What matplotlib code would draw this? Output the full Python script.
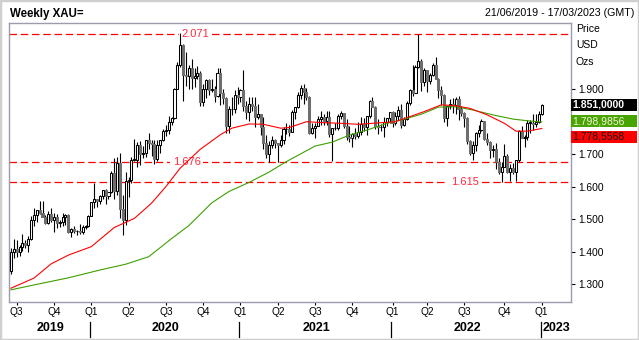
import matplotlib.pyplot as plt
import matplotlib.transforms as mtransforms
from matplotlib.patches import Rectangle
import numpy as np

plt.rcParams['font.family'] = ['Liberation Sans', 'DejaVu Sans']

# weekly XAU= candles, one per week from 21/06/2019 to 06/01/2023
opens = [
    # 2019
    1341, 1400, 1409, 1400, 1415, 1426, 1419, 1440, 1497, 1513, 1527, 1520, 1507, 1488,
    1517, 1498, 1505, 1489, 1490, 1505, 1514, 1459, 1468, 1462, 1464, 1460, 1476, 1479,
    # 2020
    1511, 1552, 1562, 1557, 1571, 1589, 1570, 1584, 1643, 1585, 1674, 1530, 1498, 1617,
    1620, 1683, 1683, 1728, 1701, 1703, 1743, 1735, 1730, 1685, 1729, 1743, 1771, 1775,
    1798, 1810, 1902, 1975, 2035, 1944, 1940, 1964, 1934, 1940, 1950, 1862, 1900, 1930,
    1899, 1902, 1879, 1951, 1888, 1872, 1788, 1839, 1840, 1881,
    # 2021
    1877, 1898, 1849, 1829, 1855, 1848, 1814, 1823, 1784, 1734, 1700, 1727, 1745, 1733,
    1728, 1744, 1777, 1777, 1769, 1831, 1844, 1881, 1903, 1891, 1877, 1764, 1781, 1787,
    1808, 1815, 1802, 1814, 1763, 1780, 1781, 1818, 1827, 1788, 1754, 1750, 1761, 1757,
    1768, 1793, 1783, 1818, 1865, 1846, 1788, 1783, 1783, 1798, 1810,
    # 2022
    1829, 1797, 1817, 1835, 1791, 1808, 1859, 1898, 1889, 1970, 1988, 1921, 1958, 1925,
    1945, 1975, 1932, 1897, 1883, 1811, 1847, 1853, 1851, 1871, 1840, 1827, 1811, 1742,
    1703, 1727, 1766, 1775, 1802, 1747, 1737, 1712, 1716, 1675, 1644, 1661, 1695, 1644,
    1656, 1645, 1681, 1771, 1751, 1754, 1797, 1797, 1793, 1798,
    # 2023
    1824,
]
highs = [
    1411, 1439, 1437, 1419, 1453, 1434, 1449, 1510, 1535, 1527, 1555, 1557, 1512, 1524,
    1535, 1519, 1517, 1498, 1518, 1517, 1515, 1474, 1478, 1465, 1484, 1481, 1482, 1513,
    1553, 1611, 1563, 1574, 1589, 1592, 1584, 1649, 1689, 1692, 1703, 1575, 1645, 1631,
    1690, 1747, 1738, 1739, 1724, 1744, 1765, 1745, 1744, 1744, 1745, 1779, 1789, 1818,
    1815, 1904, 1984, 2072, 2039, 2015, 1976, 1992, 1966, 1973, 1955, 1917, 1933, 1933,
    1932, 1911, 1965, 1966, 1900, 1875, 1848, 1875, 1897, 1907,
    1900, 1959, 1864, 1875, 1875, 1875, 1855, 1824, 1815, 1760, 1740, 1755, 1746, 1734,
    1758, 1784, 1797, 1790, 1836, 1846, 1890, 1913, 1916, 1903, 1879, 1795, 1795, 1818,
    1834, 1825, 1832, 1832, 1782, 1795, 1824, 1834, 1828, 1808, 1787, 1764, 1781, 1800,
    1814, 1810, 1818, 1868, 1877, 1849, 1809, 1793, 1815, 1812, 1830,
    1832, 1830, 1848, 1853, 1815, 1865, 1902, 1974, 1974, 2070, 1992, 1966, 1960, 1950,
    1981, 1998, 1936, 1910, 1885, 1849, 1870, 1874, 1875, 1879, 1847, 1830, 1813, 1745,
    1739, 1767, 1789, 1807, 1802, 1765, 1739, 1729, 1735, 1688, 1675, 1730, 1700, 1669,
    1674, 1682, 1774, 1786, 1760, 1804, 1805, 1824, 1823, 1833,
    1855,
]
lows = [
    1331, 1381, 1382, 1386, 1403, 1412, 1400, 1437, 1480, 1492, 1516, 1506, 1485, 1484,
    1491, 1459, 1474, 1476, 1480, 1483, 1456, 1445, 1456, 1452, 1455, 1455, 1470, 1477,
    1508, 1535, 1536, 1546, 1563, 1547, 1562, 1580, 1563, 1575, 1504, 1451, 1482, 1567,
    1611, 1679, 1659, 1666, 1688, 1692, 1716, 1693, 1670, 1678, 1704, 1739, 1757, 1763,
    1791, 1808, 1900, 1968, 1863, 1911, 1902, 1902, 1906, 1933, 1848, 1848, 1873, 1882,
    1890, 1860, 1875, 1850, 1855, 1764, 1765, 1820, 1826, 1856,
    1862, 1834, 1808, 1802, 1832, 1785, 1807, 1760, 1717, 1687, 1676, 1719, 1719, 1677,
    1721, 1732, 1763, 1756, 1768, 1808, 1843, 1870, 1855, 1866, 1761, 1761, 1750, 1787,
    1791, 1789, 1791, 1753, 1678, 1773, 1775, 1807, 1782, 1745, 1737, 1721, 1746, 1750,
    1760, 1772, 1758, 1812, 1844, 1777, 1762, 1770, 1753, 1786, 1796,
    1783, 1791, 1805, 1780, 1788, 1806, 1850, 1878, 1889, 1964, 1895, 1910, 1890, 1915,
    1940, 1931, 1872, 1850, 1798, 1787, 1840, 1828, 1825, 1805, 1817, 1784, 1732, 1697,
    1681, 1711, 1754, 1771, 1745, 1727, 1688, 1691, 1654, 1639, 1615, 1659, 1641, 1618,
    1638, 1616, 1676, 1750, 1721, 1744, 1765, 1773, 1784, 1795,
    1822,
]
closes = [
    1400, 1409, 1400, 1415, 1426, 1419, 1440, 1497, 1513, 1527, 1520, 1507, 1488, 1517,
    1498, 1505, 1489, 1490, 1505, 1514, 1459, 1468, 1462, 1464, 1460, 1476, 1479, 1511,
    1552, 1562, 1557, 1571, 1589, 1570, 1584, 1643, 1585, 1674, 1530, 1498, 1617, 1620,
    1683, 1683, 1728, 1701, 1703, 1743, 1735, 1730, 1685, 1729, 1743, 1771, 1775, 1798,
    1810, 1902, 1975, 2035, 1944, 1940, 1964, 1934, 1940, 1950, 1862, 1900, 1930, 1899,
    1902, 1879, 1951, 1888, 1872, 1788, 1839, 1840, 1881, 1877,
    1898, 1849, 1829, 1855, 1848, 1814, 1823, 1784, 1734, 1700, 1727, 1745, 1733, 1728,
    1744, 1777, 1777, 1769, 1831, 1844, 1881, 1903, 1891, 1877, 1764, 1781, 1787, 1808,
    1815, 1802, 1814, 1763, 1780, 1781, 1818, 1827, 1788, 1754, 1750, 1761, 1757, 1768,
    1793, 1783, 1818, 1865, 1846, 1788, 1783, 1783, 1798, 1810, 1829,
    1797, 1817, 1835, 1791, 1808, 1859, 1898, 1889, 1970, 1988, 1921, 1958, 1925, 1945,
    1975, 1932, 1897, 1883, 1811, 1847, 1853, 1851, 1871, 1840, 1827, 1811, 1742, 1703,
    1727, 1766, 1775, 1802, 1747, 1737, 1712, 1716, 1675, 1644, 1661, 1695, 1644, 1656,
    1645, 1681, 1771, 1751, 1754, 1797, 1797, 1793, 1798, 1824,
    1851,
]

# moving averages, sampled at bar numbers
slow_ma_bar = [0, 8, 20, 31, 40, 48, 56, 62, 66, 70, 76, 83, 90, 96, 106, 112, 118, 124,
               131, 136, 143, 149, 155, 161, 168, 175, 181, 185]
slow_ma = [1282, 1297, 1319, 1343, 1361, 1384, 1440, 1480, 1515, 1550, 1585, 1613, 1645,
           1677, 1725, 1737, 1759, 1774, 1795, 1805, 1823, 1845, 1846, 1836, 1821, 1808,
           1802, 1799]
fast_ma_bar = [0, 8, 14, 20, 28, 36, 43, 49, 54, 59, 66, 73, 77, 83, 88, 94, 97, 103, 109,
               115, 121, 126, 134, 144, 150, 155, 160, 166, 172, 176, 180, 185]
fast_ma = [1287, 1318, 1362, 1389, 1415, 1474, 1502, 1549, 1600, 1657, 1715, 1760, 1780,
           1793, 1792, 1780, 1782, 1800, 1797, 1795, 1792, 1795, 1800, 1831, 1852, 1849,
           1841, 1821, 1795, 1771, 1771, 1779]

levels = [2071, 1676, 1615]
level_labels = ['2.071', '1.676', '1.615']
level_label_bar = [64.3, 61.2, 158.3]

quarter_bar = [2, 15, 28, 41, 54, 67, 80, 93, 106, 119, 133, 145, 158, 172, 185]
quarter_labels = ['Q3', 'Q4', 'Q1', 'Q2', 'Q3', 'Q4', 'Q1', 'Q2', 'Q3', 'Q4',
                  'Q1', 'Q2', 'Q3', 'Q4', 'Q1']
years = ['2019', '2020', '2021', '2022']
year_mid = [13.7, 54, 106.5, 159]
year_start = [28, 80, 133, 185]

W, H = 639, 340
fig = plt.figure(figsize=(W / 100, H / 100), dpi=100)
L, R, T, B = 9, 570.7, 22.7, 302.3
ax = fig.add_axes([L / W, 1 - B / H, (R - L) / W, (B - T) / H])

o = np.array(opens, float)
h = np.array(highs, float)
lo = np.array(lows, float)
c = np.array(closes, float)
x = np.arange(len(c))
up = c >= o

ax.vlines(x, lo, h, color='black', lw=0.8, zorder=3)
body_lo = np.minimum(o, c)
body_h = np.maximum(np.abs(c - o), 1.5)
ax.bar(x[up], body_h[up], bottom=body_lo[up], width=0.72, color='white',
       edgecolor='black', lw=0.75, zorder=4)
ax.bar(x[~up], body_h[~up], bottom=body_lo[~up], width=0.72, color='#6e6e6e',
       edgecolor='#6e6e6e', lw=0.75, zorder=4)

ax.plot(slow_ma_bar, slow_ma, color='#3f9f00', lw=0.8, zorder=5)
ax.plot(fast_ma_bar, fast_ma, color='#ff0000', lw=0.8, zorder=5)

for lv, txt, xb in zip(levels, level_labels, level_label_bar):
    ax.axhline(lv, color='#ff0000', lw=0.9, ls=(0, (6, 3)), zorder=1)
    ax.text(xb, lv, txt, color='#ff2a40', fontsize=8, ha='center', va='center',
            bbox=dict(fc='white', ec='none', pad=2), zorder=2)

ax.set_xlim(-0.68, 195.1)
ax.set_ylim(1243.6, 2105)

for sp in ax.spines.values():
    sp.set_color('#9c9cae')
    sp.set_linewidth(1)

ax.yaxis.tick_right()
yt = [1300, 1400, 1500, 1600, 1700, 1900]
ax.set_yticks(yt)
ax.set_yticklabels([f'{v // 1000}.{v % 1000:03d}' for v in yt])
ax.tick_params(axis='y', length=3, width=0.8, pad=2.5, labelsize=7.4, color='black')

ax.set_xticks(quarter_bar)
ax.set_xticklabels(quarter_labels)
ax.tick_params(axis='x', length=2, width=0.8, pad=1.5, labelsize=7.3, color='black')

# year row under the quarter labels
trans = mtransforms.blended_transform_factory(ax.transData, ax.transAxes)
for yr, xm in zip(years, year_mid):
    ax.text(xm, -0.092, yr, transform=trans, ha='center', va='center',
            fontsize=9, fontweight='bold', clip_on=False)
ax.text(185.4, -0.092, '2023', transform=trans, ha='left', va='center',
        fontsize=9, fontweight='bold', clip_on=False)
for xs in year_start:
    ax.plot([xs - 0.4, xs - 0.4], [-0.069, -0.123], transform=trans, color='black',
            lw=0.9, clip_on=False)

# header
fig.text(10 / W, 1 - 14 / H, 'Weekly XAU=', fontsize=8.3, fontweight='bold', va='center')
fig.text(634 / W, 1 - 13 / H, '21/06/2019 - 17/03/2023 (GMT)', fontsize=7.7,
         ha='right', va='center')

for txt, yy in zip(['Price', 'USD', 'Ozs'], [29, 45, 61.7]):
    fig.text(576 / W, 1 - yy / H, txt, fontsize=7.5, va='center')

# last value boxes on the price scale
boxes = [('1.851,0000', 99, 110.7, 'black', 'white', 'bold'),
         ('1.798,9856', 115, 127.3, '#48a400', '#f4f4dc', 'normal'),
         ('1.778,5568', 131, 142.7, '#ff0000', '#1a1a1a', 'normal')]
for txt, y0, y1, bg, fg, fw in boxes:
    fig.patches.append(Rectangle((571 / W, 1 - y1 / H), 66 / W, (y1 - y0) / H,
                                 transform=fig.transFigure, facecolor=bg,
                                 edgecolor='none', zorder=3))
    fig.text(572 / W, 1 - (y0 + y1) / 2 / H, txt, color=fg, fontsize=7.5,
             fontweight=fw, va='center', zorder=4)

fig.patches.append(Rectangle((0, 0), 1, 1, transform=fig.transFigure, fill=False,
                             edgecolor='#cfcfcf', lw=2.5, zorder=0))

fig.savefig('out.png', dpi=100)
